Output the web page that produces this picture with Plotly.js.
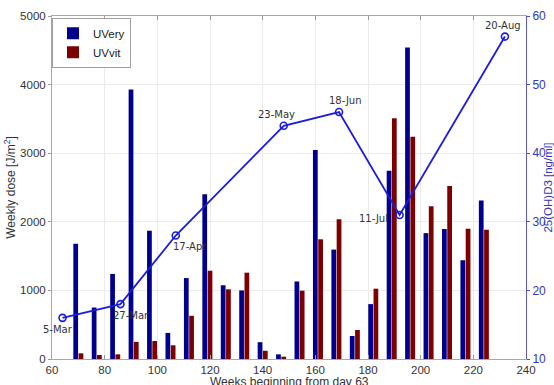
<!DOCTYPE html>
<html>
<head>
<meta charset="utf-8">
<script src="https://cdn.plot.ly/plotly-3.0.1.min.js"></script>
<style>
html,body{margin:0;padding:0;background:#fff;}
#chart{width:554px;height:385px;}
</style>
</head>
<body>
<div id="chart"></div>
<script>
// Week start days (bar group centres)
var weeks = [70,77,84,91,98,105,112,119,126,133,140,147,154,161,168,175,182,189,196,203,210,217,224];
// Weekly dose [J/m^2]
var uvery = [1680,750,1240,3930,1870,380,1180,2400,1075,1000,245,68,1130,3045,1595,335,800,2745,4540,1835,1895,1440,2310];
var uvvit = [83,58,68,250,262,200,630,1287,1016,1258,120,34,996,1745,2036,423,1025,3510,3240,2226,2522,1900,1885];
// 25(OH)D3 sampling
var sampleDays = [64,86,107,148,169,192,232];
var vitD = [16,18,28,44,46,31,57];
var sampleLabels = ['5-Mar','27-Mar','17-Apr','23-May','18-Jun','11-Jul','20-Aug'];
var labelShiftX = [-5,11,14,-7,6,-26,-2];
var labelShiftY = [-12,-11,-11,11,12,-4,11];
var xTitle = 'Weeks beginning from day 63';

var traces = [
  {type:'bar', name:'UVery', x:weeks, y:uvery, offset:-1.9, width:1.8,
   marker:{color:'#00008c', line:{width:0}}, xaxis:'x', yaxis:'y'},
  {type:'bar', name:'UVvit', x:weeks, y:uvvit, offset:0.1, width:1.8,
   marker:{color:'#7d0000', line:{width:0}}, xaxis:'x', yaxis:'y'},
  {type:'scatter', mode:'lines+markers', x:sampleDays, y:vitD, xaxis:'x', yaxis:'y2',
   showlegend:false, line:{color:'#1c1cdc', width:1.8},
   marker:{symbol:'circle-open', size:7, color:'#1c1cdc', line:{width:1.6, color:'#1c1cdc'}}}
];

var annotations = sampleDays.map(function(d,i){
  return {x:d, y:vitD[i], xref:'x', yref:'y2', text:sampleLabels[i], showarrow:false,
          xshift:labelShiftX[i], yshift:labelShiftY[i],
          font:{family:'DejaVu Sans', size:10, color:'#333333'}};
});
annotations.push({x:0.5, y:0, xref:'paper', yref:'paper', yanchor:'middle', yshift:-23,
  text:xTitle, showarrow:false, font:{size:12, color:'#333'}});

var layout = {
  width:554, height:385,
  margin:{l:52, r:28, t:16, b:26, pad:0},
  paper_bgcolor:'#ffffff', plot_bgcolor:'#ffffff',
  font:{family:'Liberation Sans, Arial, sans-serif', size:11, color:'#333333'},
  barmode:'overlay',
  showlegend:true,
  legend:{x:0.0, y:0.995, xanchor:'left', yanchor:'top', bgcolor:'#ffffff',
          bordercolor:'#a0a0a0', borderwidth:1, font:{size:11.5, color:'#222'},
          tracegroupgap:0, itemwidth:30},
  xaxis:{range:[60,240], tick0:60, dtick:20, ticks:'inside', ticklen:4, tickcolor:'#9a9a9a',
         showline:true, linecolor:'#a8a8a8', linewidth:1, mirror:'ticks',
         showgrid:true, gridcolor:'#ebebeb', zeroline:false,
         tickfont:{size:11.5, color:'#333'}},
  yaxis:{range:[0,5000], tick0:0, dtick:1000, ticks:'outside', ticklen:3, tickcolor:'#9a9a9a',
         showline:true, linecolor:'#a8a8a8', linewidth:1,
         showgrid:true, gridcolor:'#ebebeb', zeroline:false,
         tickfont:{size:11.5, color:'#333'},
         title:{text:'Weekly dose [J/m<sup>2</sup>]', font:{size:12, color:'#333'}}},
  yaxis2:{range:[10,60], tick0:10, dtick:10, overlaying:'y', side:'right',
          ticks:'outside', ticklen:3, tickcolor:'#4d4dc0',
          showline:true, linecolor:'#5a5ac4', linewidth:1,
          showgrid:false, zeroline:false,
          tickfont:{size:12, color:'#3535b5'},
          title:{text:'25(OH)D3 [ng/ml]', font:{size:11.5, color:'#3535b5'}}},
  annotations:annotations
};

Plotly.newPlot('chart', traces, layout, {displayModeBar:false, staticPlot:true});
</script>
</body>
</html>
